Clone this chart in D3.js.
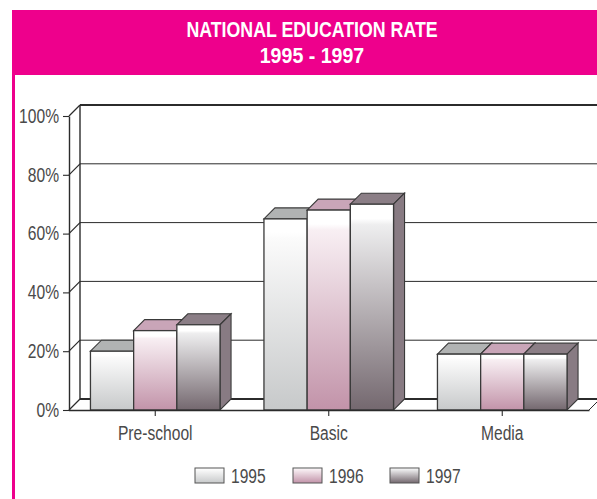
<!DOCTYPE html>
<html>
<head>
<meta charset="utf-8">
<script src="https://cdn.jsdelivr.net/npm/d3@7"></script>
<style>
html, body { margin: 0; padding: 0; background: #fff; overflow: hidden; }
text { font-family: "Liberation Sans", sans-serif; }
</style>
</head>
<body>
<div id="my_dataviz"></div>
<script>
var categories = ["Pre-school", "Basic", "Media"];
var years = ["1995", "1996", "1997"];
var values1995 = [20, 65, 19];
var values1996 = [27, 68, 19];
var values1997 = [29, 70, 19];
var yTicks = [0, 20, 40, 60, 80, 100];
var titleLines = ["NATIONAL EDUCATION RATE", "1995 - 1997"];

var series = [values1995, values1996, values1997];
var topColors = ["#b1b3b3", "#c9a5b8", "#8b7e86"];
var sideColor = "#887b83";
var gradStops = [["#fbfbfb", "#c7c9ca"], ["#f8eff3", "#c293a9"], ["#eeeeef", "#74686f"]];
var pink = "#ee008c", lineCol = "#2b2b2b", textCol = "#4a4a4a";

// no narrow face installed, so squeeze the glyphs to the reference widths
function narrow(sel, k){
    sel.each(function(d, i){
        var f = typeof k === "function" ? k(d, i) : k;
        this.setAttribute("textLength", this.getComputedTextLength() * f);
        this.setAttribute("lengthAdjust", "spacingAndGlyphs");
    });
}

var svg = d3.select("#my_dataviz").append("svg")
    .attr("width", 597)
    .attr("height", 499);

var defs = svg.append("defs");
years.forEach(function(yr, i){
    var g = defs.append("linearGradient")
        .attr("id", "grad" + yr)
        .attr("x1", 0).attr("y1", 0).attr("x2", 0).attr("y2", 1);
    g.append("stop").attr("offset", "0%").attr("stop-color", "#fff");
    g.append("stop").attr("offset", "7%").attr("stop-color", "#fff");
    g.append("stop").attr("offset", "10%").attr("stop-color", gradStops[i][0]);
    g.append("stop").attr("offset", "100%").attr("stop-color", gradStops[i][1]);
});

// pink header + left border
svg.append("rect").attr("x", 12).attr("y", 10).attr("width", 585).attr("height", 65).attr("fill", pink);
svg.append("rect").attr("x", 12).attr("y", 10).attr("width", 3).attr("height", 489).attr("fill", pink);
svg.selectAll(".title").data(titleLines).enter().append("text")
    .attr("class", "title")
    .attr("x", 312)
    .attr("y", function(d, i){ return 37 + i * 26; })
    .attr("text-anchor", "middle")
    .attr("fill", "#fff")
    .attr("font-weight", "bold")
    .attr("font-size", 22)
    .text(function(d){ return d; })
    .call(narrow, function(d, i){ return i === 0 ? 0.807 : 0.89; });

var depth = 11;
var x = d3.scaleBand().domain(categories).range([68.5, 589]);
var y = d3.scaleLinear().domain([0, 100]).range([410, 116]);
var inner = d3.scaleBand().domain(years).range([0, 129.6]);

// back wall + gridlines
var plot = svg.append("g");
plot.append("line").attr("x1", 69 + depth).attr("x2", 69 + depth)
    .attr("y1", y(0) - depth).attr("y2", y(100) - depth)
    .attr("stroke", lineCol).attr("stroke-width", 1.4);
plot.selectAll(".grid").data(yTicks).enter().append("line")
    .attr("class", "grid")
    .attr("x1", 69 + depth).attr("x2", 597)
    .attr("y1", function(d){ return y(d) - depth; })
    .attr("y2", function(d){ return y(d) - depth; })
    .attr("stroke", lineCol)
    .attr("stroke-width", function(d){ return (d === 0 || d === 100) ? 1.8 : 1; });
plot.selectAll(".diag").data(yTicks).enter().append("line")
    .attr("class", "diag")
    .attr("x1", 69).attr("x2", 69 + depth)
    .attr("y1", function(d){ return y(d); })
    .attr("y2", function(d){ return y(d) - depth; })
    .attr("stroke", lineCol).attr("stroke-width", 1.2);
// floor right corner
plot.append("line").attr("x1", x.range()[1]).attr("x2", x.range()[1] + depth)
    .attr("y1", y(0)).attr("y2", y(0) - depth).attr("stroke", lineCol);

// axes go under the bars so the bar bases sit on the floor edge
var yAxis = svg.append("g")
    .attr("transform", "translate(69,0)")
    .call(d3.axisLeft(y).tickValues(yTicks).tickFormat(function(d){ return d + "%"; }).tickSizeInner(6).tickSizeOuter(0).tickPadding(4));
var xAxis = svg.append("g")
    .attr("transform", "translate(0," + y(0) + ")")
    .call(d3.axisBottom(x).tickSizeInner(6).tickSizeOuter(0).tickPadding(10));
[yAxis, xAxis].forEach(function(a){
    a.selectAll("path").attr("stroke", lineCol).attr("stroke-width", 1.4);
    a.selectAll("line").attr("stroke", lineCol).attr("stroke-width", 1.1);
    a.selectAll("text").attr("font-size", 19.5).attr("fill", textCol).attr("font-family", null).call(narrow, 0.8);
});

// bars
categories.forEach(function(cat, c){
    var left = x(cat) + x.bandwidth() / 2 - 64.8;
    var g = plot.append("g").attr("transform", "translate(" + left + ",0)");
    years.forEach(function(yr, s){
        var v = series[s][c];
        var bx = inner(yr), w = inner.bandwidth(), ty = y(v);
        g.append("polygon")
            .attr("points", [[bx, ty], [bx + depth, ty - depth], [bx + w + depth, ty - depth], [bx + w, ty]].join(" "))
            .attr("fill", topColors[s]).attr("stroke", "#3a3a3a").attr("stroke-width", 1.1);
        g.append("polygon")
            .attr("points", [[bx + w, ty], [bx + w + depth, ty - depth], [bx + w + depth, y(0) - depth], [bx + w, y(0)]].join(" "))
            .attr("fill", sideColor).attr("stroke", "#3a3a3a").attr("stroke-width", 1.1);
        g.append("rect")
            .attr("x", bx).attr("y", ty)
            .attr("width", w).attr("height", y(0) - ty)
            .attr("fill", "url(#grad" + yr + ")")
            .attr("stroke", "#3a3a3a").attr("stroke-width", 1.3);
    });
});
svg.node().appendChild(yAxis.node());
svg.node().appendChild(xAxis.node());

// legend
var legendX = d3.scaleOrdinal().domain(years).range([195, 293, 390]);
var legend = svg.selectAll(".legend").data(years).enter().append("g")
    .attr("class", "legend")
    .attr("transform", function(d){ return "translate(" + legendX(d) + ",468)"; });
legend.append("rect").attr("width", 29).attr("height", 15)
    .attr("fill", function(d){ return "url(#grad" + d + ")"; })
    .attr("stroke", "#555").attr("stroke-width", 1);
legend.append("text").attr("x", 36).attr("y", 14.5)
    .attr("font-size", 19.5).attr("fill", textCol)
    .text(function(d){ return d; })
    .call(narrow, 0.8);
</script>
</body>
</html>
